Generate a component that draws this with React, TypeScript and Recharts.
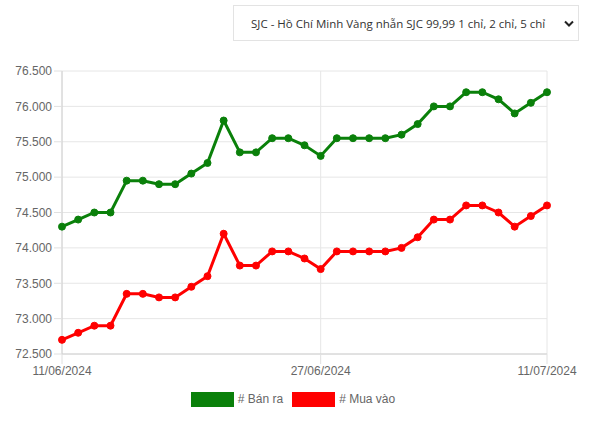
import React from "react";
import { LineChart, Line, XAxis, YAxis, CartesianGrid } from "recharts";

const dates = [
  "11/06/2024", "12/06/2024", "13/06/2024", "14/06/2024", "15/06/2024", "16/06/2024",
  "17/06/2024", "18/06/2024", "19/06/2024", "20/06/2024", "21/06/2024", "22/06/2024",
  "23/06/2024", "24/06/2024", "25/06/2024", "26/06/2024", "27/06/2024", "28/06/2024",
  "29/06/2024", "30/06/2024", "01/07/2024", "02/07/2024", "03/07/2024", "04/07/2024",
  "05/07/2024", "06/07/2024", "07/07/2024", "08/07/2024", "09/07/2024", "10/07/2024",
  "11/07/2024",
];

// Bán ra (sell)
const sellPrices = [
  74300, 74400, 74500, 74500, 74950, 74950, 74900, 74900, 75050, 75200, 75800,
  75350, 75350, 75550, 75550, 75450, 75300, 75550, 75550, 75550, 75550, 75600,
  75750, 76000, 76000, 76200, 76200, 76100, 75900, 76050, 76200,
];

// Mua vào (buy)
const buyPrices = [
  72700, 72800, 72900, 72900, 73350, 73350, 73300, 73300, 73450, 73600, 74200,
  73750, 73750, 73950, 73950, 73850, 73700, 73950, 73950, 73950, 73950, 74000,
  74150, 74400, 74400, 74600, 74600, 74500, 74300, 74450, 74600,
];

const xTicks = [0, 16, 30];
const yTicks = [72500, 73000, 73500, 74000, 74500, 75000, 75500, 76000, 76500];

const seriesNames = ["# Bán ra", "# Mua vào"];
const seriesColors = ["#0a800a", "#ff0000"];

const selectLabel = "SJC - Hồ Chí Minh Vàng nhẫn SJC 99,99 1 chỉ, 2 chỉ, 5 chỉ";

const data = dates.map((d, i) => ({ day: i, date: d, sell: sellPrices[i], buy: buyPrices[i] }));

const fmt = (v: number) => `${Math.floor(v / 1000)}.${String(v % 1000).padStart(3, "0")}`;

const arial = "'Liberation Sans', Arial, sans-serif";
const tickStyle = { fontSize: 12, fill: "#666", fontFamily: arial };

export default function App() {
  return (
    <div style={{ position: "absolute", left: 0, top: 0, width: 594, height: 421, background: "#fff" }}>
      <div
        style={{
          position: "absolute",
          left: 233,
          top: 5,
          width: 344,
          height: 34,
          border: "1px solid #e3e3e3",
          fontFamily: "'Open Sans', 'Noto Sans', sans-serif",
          fontSize: 11.5,
          color: "#333",
          display: "flex",
          alignItems: "center",
        }}
      >
        <span style={{ paddingLeft: 17, whiteSpace: "nowrap" }}>{selectLabel}</span>
        <svg width="10" height="8" style={{ position: "absolute", left: 330, top: 14 }}>
          <path d="M1 1.5 L5 5.5 L9 1.5" stroke="#222" strokeWidth="2" fill="none" />
        </svg>
      </div>

      <div style={{ position: "absolute", left: 0, top: 0 }}>
        <LineChart width={594} height={385} data={data} margin={{ top: 71, right: 47, left: 7, bottom: 0 }}>
          <CartesianGrid stroke="#e6e6e6" />
          <XAxis
            dataKey="day"
            type="number"
            domain={[0, 30]}
            ticks={xTicks}
            tickFormatter={(v: number) => dates[v]}
            tick={tickStyle}
            tickLine={{ stroke: "#e0e0e0" }}
            tickSize={10}
            tickMargin={2}
            axisLine={{ stroke: "#d0d0d0" }}
            height={31}
            interval={0}
          />
          <YAxis
            domain={[72500, 76500]}
            ticks={yTicks}
            tickFormatter={fmt}
            tick={tickStyle}
            tickLine={{ stroke: "#e0e0e0" }}
            tickSize={8}
            tickMargin={2}
            axisLine={{ stroke: "#d0d0d0" }}
            width={55}
            interval={0}
          />
          <Line
            dataKey="sell"
            name={seriesNames[0]}
            stroke={seriesColors[0]}
            strokeWidth={3}
            dot={{ r: 3.5, fill: seriesColors[0], stroke: seriesColors[0], strokeWidth: 1 }}
            isAnimationActive={false}
          />
          <Line
            dataKey="buy"
            name={seriesNames[1]}
            stroke={seriesColors[1]}
            strokeWidth={3}
            dot={{ r: 3.5, fill: seriesColors[1], stroke: seriesColors[1], strokeWidth: 1 }}
            isAnimationActive={false}
          />
        </LineChart>
      </div>

      <div
        style={{
          position: "absolute",
          left: 0,
          top: 392,
          width: 594,
          display: "flex",
          justifyContent: "center",
          marginLeft: -4,
          fontFamily: arial,
          fontSize: 12,
          color: "#666",
          lineHeight: "15px",
        }}
      >
        {seriesNames.map((n, i) => (
          <div key={n} style={{ display: "flex", alignItems: "center", marginRight: i === 0 ? 9 : 0 }}>
            <span style={{ display: "inline-block", width: 43, height: 15, background: seriesColors[i], marginRight: 4 }} />
            <span>{n}</span>
          </div>
        ))}
      </div>
    </div>
  );
}
